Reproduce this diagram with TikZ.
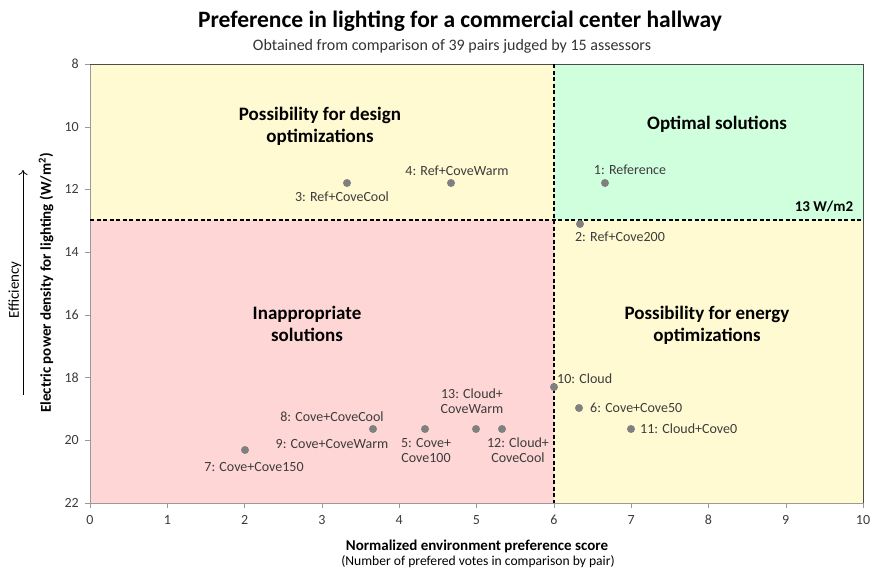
\documentclass[tikz,border=0pt]{standalone}
\usepackage{fontspec}
\setmainfont{Carlito}
\usetikzlibrary{arrows.meta}
\definecolor{qyellow}{RGB}{255,250,210}
\definecolor{qgreen}{RGB}{208,255,222}
\definecolor{qpink}{RGB}{255,214,214}
\definecolor{dotgray}{RGB}{128,128,128}
\definecolor{txt}{RGB}{60,60,60}
\tikzset{
  x=1pt,y=-1pt,
  dot/.style={circle,fill=dotgray,inner sep=0pt,minimum size=8pt},
  lbl/.style={font=\fontsize{14}{15}\selectfont,text=txt,inner sep=1pt,align=center},
  region/.style={font=\fontsize{19}{22}\selectfont\bfseries,align=center},
  tick/.style={font=\fontsize{14}{15}\selectfont,text=txt,inner sep=1pt},
  divider/.style={dashed,line width=1.2pt,dash pattern=on 4pt off 2.5pt}
}
\begin{document}
\begin{tikzpicture}
\useasboundingbox (0,0) rectangle (875,571);
% backgrounds
\fill[qyellow] (90,64) rectangle (554,220);
\fill[qgreen] (554,64) rectangle (863,220);
\fill[qpink] (90,220) rectangle (554,503);
\fill[qyellow] (554,220) rectangle (863,503);
% frame
\draw[gray!80,line width=0.8pt] (90,64) -- (90,503) -- (863,503);
\draw[black!70,line width=0.8pt] (90,64) -- (863,64) -- (863,503);
% dividers
\draw[divider] (554,64) -- (554,503);
\draw[divider] (90,220) -- (863,220);
% y ticks
\foreach \v/\p in {8/64,10/126.7,12/189.4,14/252.2,16/314.9,18/377.6,20/440.3,22/503}{
  \draw[gray!80] (85,\p) -- (90,\p);
  \node[tick,anchor=east] (yt\v) at (80,\p) {\v};
}
% x ticks
\foreach \v in {0,...,10}{
  \draw[gray!80] ({90+77.3*\v},503) -- ({90+77.3*\v},508);
  \node[tick] (xt\v) at ({90+77.3*\v},520) {\v};
}
% titles
\node[font=\fontsize{23.5}{26}\selectfont\bfseries] (title) at (460,21) {Preference in lighting for a commercial center hallway};
\node[font=\fontsize{16}{18}\selectfont,text=black!80] (subtitle) at (452,46) {Obtained from comparison of 39 pairs judged by 15 assessors};
\node[font=\fontsize{15}{16}\selectfont\bfseries] (xtitle) at (477,546) {Normalized environment preference score};
\node[font=\fontsize{13.6}{15}\selectfont] (xsub) at (478,562) {(Number of prefered votes in comparison by pair)};
\node[font=\fontsize{15}{16}\selectfont\bfseries,rotate=90] (ytitle) at (46,283) {Electric power density for lighting (W/m\textsuperscript{2})};
\coordinate (effbot) at (23,395);
\coordinate (efftop) at (23,170);
\draw[-{To[length=5pt,width=9pt]},line width=0.8pt] (effbot) -- (efftop);
\node[font=\fontsize{15}{16}\selectfont,rotate=90] (eff) at (15,290) {Efficiency};
% region labels
\node[region] (rdesign) at (320,126) {Possibility for design\\optimizations};
\node[region] (roptimal) at (717,124) {Optimal solutions};
\node[region] (rinapp) at (307,324) {Inappropriate\\solutions};
\node[region] (renergy) at (707,325) {Possibility for energy\\optimizations};
\node[font=\fontsize{15}{17}\selectfont\bfseries] (limit) at (824,207) {13 W/m2};
% points
\node[dot] (p1) at (605,183) {};
\node[dot] (p2) at (580,224) {};
\node[dot] (p3) at (347,183) {};
\node[dot] (p4) at (451,183) {};
\node[dot] (p5) at (425,429) {};
\node[dot] (p6) at (579,408) {};
\node[dot] (p7) at (245,450) {};
\node[dot] (p8) at (373,429) {};
\node[dot] (p10) at (554,387) {};
\node[dot] (p11) at (631,429) {};
\node[dot] (p12) at (502,429) {};
\node[dot] (p13) at (476,429) {};
% point labels
\node[lbl] (l1) at (630,170) {1: Reference};
\node[lbl] (l2) at (620,237) {2: Ref+Cove200};
\node[lbl] (l3) at (342,197) {3: Ref+CoveCool};
\node[lbl] (l4) at (457,171) {4: Ref+CoveWarm};
\node[lbl] (l5) at (426,450) {5: Cove+\\Cove100};
\node[lbl,anchor=west] (l6) at (589,408) {6: Cove+Cove50};
\node[lbl] (l7) at (254,467) {7: Cove+Cove150};
\node[lbl] (l8) at (332,417) {8: Cove+CoveCool};
\node[lbl] (l9) at (332,444) {9: Cove+CoveWarm};
\node[lbl,anchor=west] (l10) at (556,379) {10: Cloud};
\node[lbl,anchor=west] (l11) at (639,429) {11: Cloud+Cove0};
\node[lbl] (l12) at (518,450) {12: Cloud+\\CoveCool};
\node[lbl] (l13) at (472,401) {13: Cloud+\\CoveWarm};
\end{tikzpicture}
\end{document}
